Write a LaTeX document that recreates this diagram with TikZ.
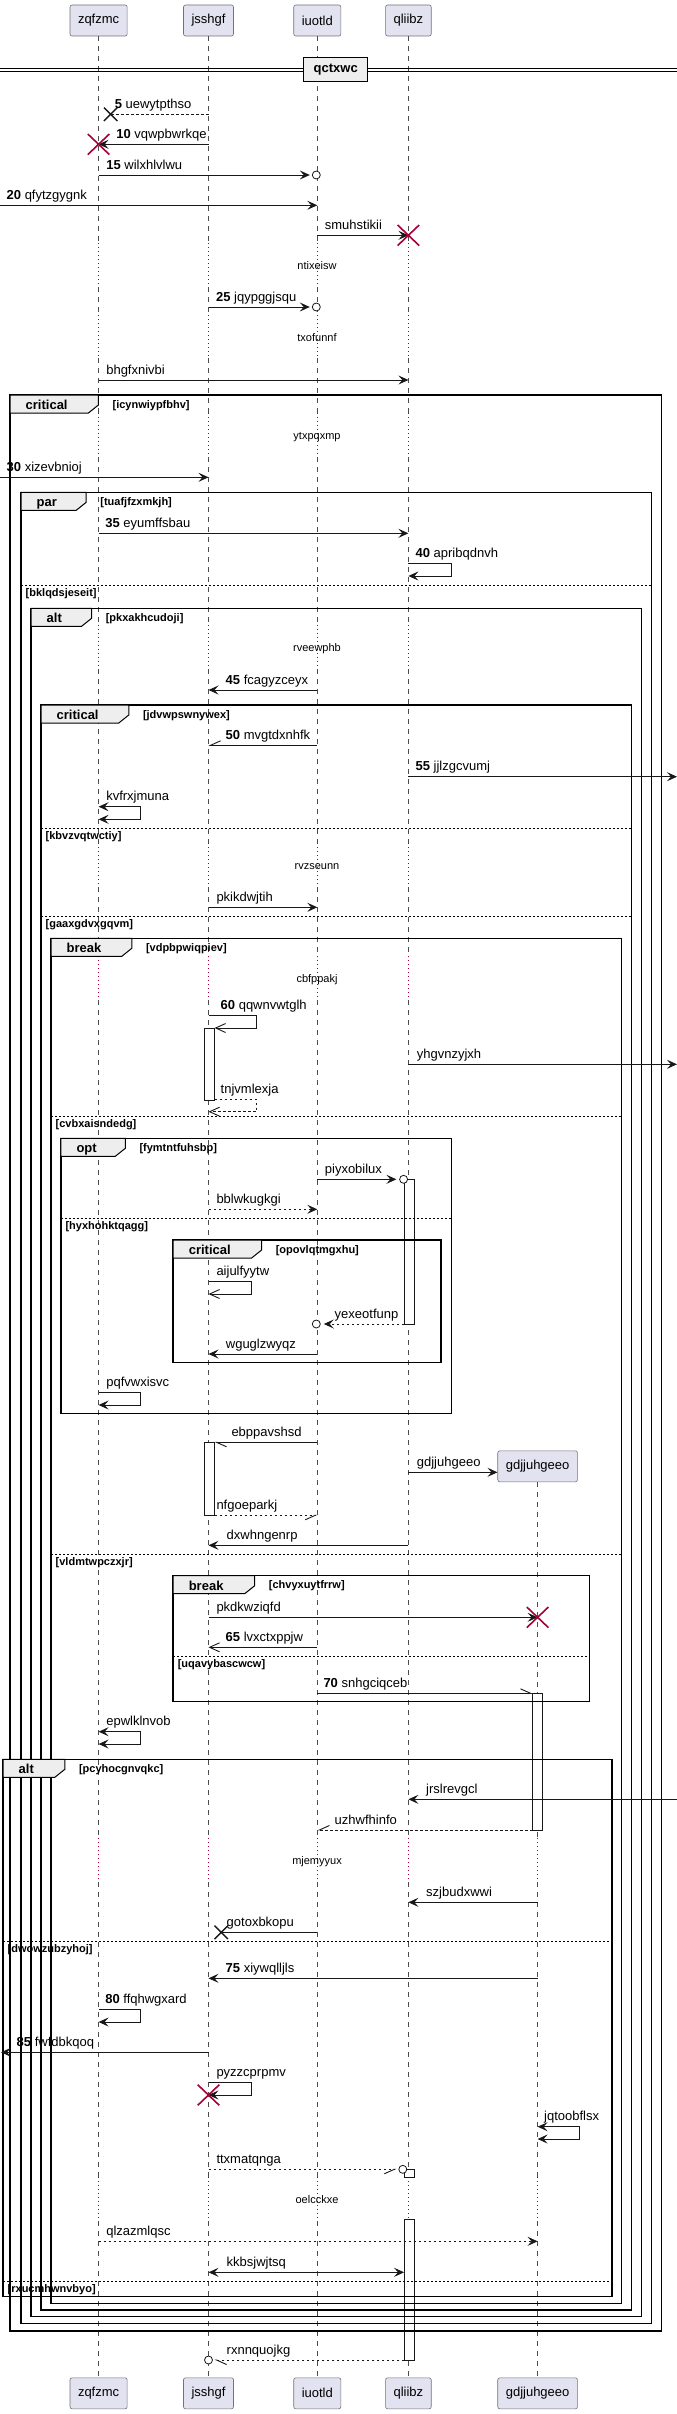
\documentclass[tikz,border=0pt]{standalone}
\usepackage{fontspec}
\setmainfont{Liberation Sans}
\usetikzlibrary{arrows.meta,shapes.misc}

\definecolor{partfill}{HTML}{E2E2F0}
\definecolor{tabfill}{HTML}{EEEEEE}
\definecolor{killred}{HTML}{A80036}
\definecolor{inkgray}{HTML}{181818}

\tikzset{
	headfull/.tip={Stealth[length=10pt,width=9pt,inset=4pt]},
	headopen/.tip={Straight Barb[length=10pt,width=9pt]},
	halfleft/.tip={Straight Barb[harpoon,length=10pt,width=9pt]},
	halfright/.tip={Straight Barb[harpoon,swap,length=10pt,width=9pt]},
}

\begin{document}
\begin{tikzpicture}[x=1pt,y=-1pt,
	part/.style={draw=black!55, fill=partfill, rounded corners=2pt, line width=0.6pt,
		minimum height=31pt, inner xsep=8pt, font=\fontsize{13}{15}\selectfont},
	lifeline/.style={draw=black!70, line width=0.5pt, dash pattern=on 5pt off 5pt},
	delayline/.style={draw=killred, line width=0.7pt, dash pattern=on 1pt off 3pt},
	msg/.style={draw=inkgray, line width=0.9pt, -{headfull}},
	ret/.style={msg, dash pattern=on 2.5pt off 2.5pt},
	lbl/.style={anchor=base west, inner sep=0pt, yshift=6pt, font=\fontsize{13}{15}\selectfont},
	actbar/.style={draw=inkgray, fill=white, line width=0.8pt},
	fragframe/.style={draw=black, line width=1.5pt},
	fragtab/.style={draw=black, fill=tabfill, line width=1pt},
	tabtext/.style={anchor=base west, inner sep=0pt, font=\bfseries\fontsize{13}{15}\selectfont},
	cond/.style={anchor=base west, inner sep=0pt, font=\bfseries\fontsize{11}{13}\selectfont},
	sepline/.style={draw=black, line width=0.8pt, dash pattern=on 2pt off 2pt},
	delaytext/.style={anchor=base, inner sep=0pt, font=\fontsize{11}{13}\selectfont},
	endo/.style={circle, draw=inkgray, fill=white, line width=0.8pt, inner sep=0pt, minimum size=8pt},
	killx/.style={cross out, draw=killred, line width=1.6pt, inner sep=0pt, minimum width=20pt, minimum height=19pt},
	lostx/.style={cross out, draw=inkgray, line width=1.4pt, inner sep=0pt, minimum size=12pt},
	divbox/.style={draw=black, fill=tabfill, line width=1.5pt, minimum width=64pt, minimum height=24.4pt,
		inner sep=0pt, font=\bfseries\fontsize{13}{15}\selectfont},
]

	\useasboundingbox (0,0) rectangle (677,2414);

% participants %{{{2

	\node[part] (zq) at (98.6,20.5) {zqfzmc};
	\node[part] (js) at (208.5,20.5) {jsshgf};
	\node[part] (iu) at (317.3,20.5) {iuotld};
	\node[part] (ql) at (408.4,20.5) {qliibz};
	\node[part] (gd) at (537.6,1466.3) {gdjjuhgeeo};

	\node[part] (zq2) at (98.6,2393.3) {zqfzmc};
	\node[part] (js2) at (208.5,2393.3) {jsshgf};
	\node[part] (iu2) at (317.3,2393.3) {iuotld};
	\node[part] (ql2) at (408.4,2393.3) {qliibz};
	\node[part] (gd2) at (537.6,2393.3) {gdjjuhgeeo};

% coordinates %{{{2

	\coordinate (west) at (0,0);
	\coordinate (east) at (677,0);

	\coordinate (y05) at (0,114.3);
	\coordinate (y10) at (0,144.3);
	\coordinate (y15) at (0,175);
	\coordinate (y20) at (0,205.3);
	\coordinate (ysm) at (0,235.3);
	\coordinate (y25) at (0,307);
	\coordinate (ybh) at (0,380);
	\coordinate (y30) at (0,477.3);
	\coordinate (y35) at (0,533.3);
	\coordinate (y40) at (0,563.3);
	\coordinate (y45) at (0,690);
	\coordinate (y50) at (0,745.3);
	\coordinate (y55) at (0,776.7);
	\coordinate (ykv) at (0,806.7);
	\coordinate (ypk) at (0,907.3);
	\coordinate (y60) at (0,1015.3);
	\coordinate (yyh) at (0,1064.3);
	\coordinate (ytn) at (0,1099.3);
	\coordinate (ypi) at (0,1179.3);
	\coordinate (ybb) at (0,1209.3);
	\coordinate (yai) at (0,1281.7);
	\coordinate (yye) at (0,1324);
	\coordinate (ywg) at (0,1354);
	\coordinate (ypq) at (0,1392.3);
	\coordinate (yeb) at (0,1442.3);
	\coordinate (ygd) at (0,1472.3);
	\coordinate (ynf) at (0,1515.3);
	\coordinate (ydx) at (0,1545.3);
	\coordinate (ypd) at (0,1617.3);
	\coordinate (y65) at (0,1647.3);
	\coordinate (y70) at (0,1693.3);
	\coordinate (yep) at (0,1731.7);
	\coordinate (yjr) at (0,1799.3);
	\coordinate (yuz) at (0,1830);
	\coordinate (ysz) at (0,1902.3);
	\coordinate (ygo) at (0,1932.3);
	\coordinate (y75) at (0,1978.3);
	\coordinate (y80) at (0,2009.3);
	\coordinate (y85) at (0,2052.3);
	\coordinate (ypy) at (0,2082.3);
	\coordinate (yjq) at (0,2126.7);
	\coordinate (ytt) at (0,2169.3);
	\coordinate (yqz) at (0,2241.3);
	\coordinate (ykk) at (0,2272.3);
	\coordinate (yrx) at (0,2360);

% lifelines and delays %{{{2

	\foreach \x in {98.6,208.5,317.3,408.4} {
		\foreach \a/\b in {36/243,287/315,358/413,457/625,669/843,887/957,1000/1838,1882/2177,2221/2377.7}
			{ \draw[lifeline] (\x,\a) -- (\x,\b); }
		\foreach \d in {265,337,435,647.3,865.3,978.3,1860,2199.3}
			{ \draw[delayline] (\x,\d-22) -- (\x,\d+22); }
	}
	\foreach \a/\b in {1482.3/1838,1882/2177,2221/2377.7}
		{ \draw[lifeline] (537.6,\a) -- (537.6,\b); }
	\foreach \d in {1860,2199.3}
		{ \draw[delayline] (537.6,\d-22) -- (537.6,\d+22); }

	\foreach \d/\t in {265/ntixeisw,337/txofunnf,435/ytxpqxmp,647.3/rveewphb,
		865.3/rvzseunn,978.3/cbfppakj,1860/mjemyyux,2199.3/oelcckxe}
		{ \node[delaytext] (dl-\t) at (317,\d+4) {\t}; }

% divider %{{{2

	\draw[line width=0.9pt] (0,68.3) -- (677,68.3);
	\draw[line width=0.9pt] (0,71.3) -- (677,71.3);
	\node[divbox] (qctxwc) at (335.7,69.5) {qctxwc};

% activations %{{{2

	\foreach \xa/\xb/\ya/\yb in {204/214.5/1028/1100, 204/214.5/1442.3/1515.3,
		404.3/414.3/1179.3/1324.3, 404.3/414.3/2169.3/2177.7, 404.3/414.3/2219.3/2360,
		532.6/542.6/1693.3/1830}
		{ \draw[actbar] (\xa,\ya) rectangle (\xb,\yb); }

% fragments %{{{2

	\foreach \fl/\ft/\fr/\fb/\tr/\kw/\cd in {
		10/395/661.3/2331/98.4/critical/icynwiypfbhv,
		21/492.3/651.3/2323.3/86.2/par/tuafjfzxmkjh,
		31/608.3/641.3/2316.7/91.6/alt/pkxakhcudoji,
		41/705/631.3/2310/128.8/critical/jdvwpswnywex,
		51/938.3/621.3/2303.3/131.8/break/vdpbpwiqpiev,
		60.8/1138.3/451.7/1413.3/125.3/opt/fymtntfuhsbp,
		173.1/1240/441.2/1362.3/261.6/critical/opovlqtmgxhu,
		173.1/1575.7/589.4/1701.7/254.7/break/chvyxuytfrrw,
		3/1759.3/611.8/2296.7/64.8/alt/pcyhocgnvqkc}
	{
		\draw[fragframe] (\fl,\ft) rectangle (\fr,\fb);
		\draw[fragtab] (\fl,\ft) -- (\tr,\ft) -- (\tr,\ft+10) -- (\tr-10,\ft+18) -- (\fl,\ft+18) -- cycle;
		\node[tabtext] (kw-\cd) at (\fl+15.5,\ft+14.5) {\kw};
		\node[cond] (cd-\cd) at (\tr+14,\ft+13) {[\cd]};
	}

	\foreach \sl/\sr/\sy/\cd in {21/651.3/585/bklqdsjeseit, 41/631.3/828.3/kbvzvqtwctiy,
		41/631.3/916/gaaxgdvxgqvm, 51/621.3/1116/cvbxaisndedg, 60.8/451.7/1218.3/hyxhohktqagg,
		51/621.3/1554.3/vldmtwpczxjr, 173.1/589.4/1656/uqavybascwcw,
		3/611.8/1941/dwowzubzyhoj, 3/611.8/2281/rxucmhwnvbyo}
	{
		\draw[sepline] (\sl,\sy) -- (\sr,\sy);
		\node[cond] (cd-\cd) at (\sl+4.5,\sy+11) {[\cd]};
	}

% messages %{{{2

	\draw[ret,-] (js |- y05) -- ([xshift=12pt]zq |- y05);
	\node[lostx] (x05) at ([xshift=12pt]zq |- y05) {};
	\node[lbl] (t05) at ([xshift=16pt]zq |- y05) {\textbf{5} uewytpthso};

	\draw[msg] (js |- y10) -- (zq |- y10);
	\node[killx] (x10) at (zq |- y10) {};
	\node[lbl] (t10) at ([xshift=17.5pt]zq |- y10) {\textbf{10} vqwpbwrkqe};

	\draw[msg] (zq |- y15) -- ([xshift=-7.5pt]iu |- y15);
	\node[endo] (o15) at ([xshift=-1pt]iu |- y15) {};
	\node[lbl] (t15) at ([xshift=7.5pt]zq |- y15) {\textbf{15} wilxhlvlwu};

	\draw[msg] (west |- y20) -- (iu |- y20);
	\node[lbl] (t20) at ([xshift=6.5pt]west |- y20) {\textbf{20} qfytzgygnk};

	\draw[msg] (iu |- ysm) -- (ql |- ysm);
	\node[killx] (xsm) at (ql |- ysm) {};
	\node[lbl] (tsm) at ([xshift=7.4pt]iu |- ysm) {smuhstikii};

	\draw[msg] (js |- y25) -- ([xshift=-7.5pt]iu |- y25);
	\node[endo] (o25) at ([xshift=-1pt]iu |- y25) {};
	\node[lbl] (t25) at ([xshift=7.4pt]js |- y25) {\textbf{25} jqypggjsqu};

	\draw[msg] (zq |- ybh) -- (ql |- ybh);
	\node[lbl] (tbh) at ([xshift=7.5pt]zq |- ybh) {bhgfxnivbi};

	\draw[msg] (west |- y30) -- (js |- y30);
	\node[lbl] (t30) at ([xshift=6.5pt]west |- y30) {\textbf{30} xizevbnioj};

	\draw[msg] (zq |- y35) -- (ql |- y35);
	\node[lbl] (t35) at ([xshift=6.5pt]zq |- y35) {\textbf{35} eyumffsbau};

	\draw[msg] (ql |- y40) -- ++(43,0) |- ([yshift=-12.7pt]ql |- y40);
	\node[lbl] (t40) at ([xshift=7pt]ql |- y40) {\textbf{40} apribqdnvh};

	\draw[msg] (iu |- y45) -- (js |- y45);
	\node[lbl] (t45) at ([xshift=17pt]js |- y45) {\textbf{45} fcagyzceyx};

	\draw[msg,-{halfright}] (iu |- y50) -- (js |- y50);
	\node[lbl] (t50) at ([xshift=17pt]js |- y50) {\textbf{50} mvgtdxnhfk};

	\draw[msg] (ql |- y55) -- (east |- y55);
	\node[lbl] (t55) at ([xshift=7pt]ql |- y55) {\textbf{55} jjlzgcvumj};

	\draw[msg,{headfull}-{headfull}] (zq |- ykv) -- ++(42.3,0) |- ([yshift=-12.6pt]zq |- ykv);
	\node[lbl] (tkv) at ([xshift=7.5pt]zq |- ykv) {kvfrxjmuna};

	\draw[msg] (js |- ypk) -- (iu |- ypk);
	\node[lbl] (tpk) at ([xshift=7.8pt]js |- ypk) {pkikdwjtih};

	\draw[msg,-{headopen}] (js |- y60) -- ++(47.8,0) |- ([xshift=6pt,yshift=-12.7pt]js |- y60);
	\node[lbl] (t60) at ([xshift=12pt]js |- y60) {\textbf{60} qqwnvwtglh};

	\draw[msg] (ql |- yyh) -- (east |- yyh);
	\node[lbl] (tyh) at ([xshift=8.3pt]ql |- yyh) {yhgvnzyjxh};

	\draw[ret,-{headopen}] ([xshift=6pt]js |- ytn) -- ++(41.8,0) |- ([yshift=-12.4pt]js |- ytn);
	\node[lbl] (ttn) at ([xshift=12pt]js |- ytn) {tnjvmlexja};

	\draw[msg] (iu |- ypi) -- ([xshift=-12pt]ql |- ypi);
	\node[endo] (opi) at ([xshift=-4.8pt]ql |- ypi) {};
	\node[lbl] (tpi) at ([xshift=7.4pt]iu |- ypi) {piyxobilux};

	\draw[ret] (js |- ybb) -- (iu |- ybb);
	\node[lbl] (tbb) at ([xshift=7.8pt]js |- ybb) {bblwkugkgi};

	\draw[msg,-{headopen}] (js |- yai) -- ++(42.7,0) |- ([yshift=-12.3pt]js |- yai);
	\node[lbl] (tai) at ([xshift=7.8pt]js |- yai) {aijulfyytw};

	\draw[ret] ([xshift=-4.1pt]ql |- yye) -- ([xshift=6.5pt]iu |- yye);
	\node[endo] (oye) at ([xshift=-1pt]iu |- yye) {};
	\node[lbl] (tye) at ([xshift=17.2pt]iu |- yye) {yexeotfunp};

	\draw[msg] (iu |- ywg) -- (js |- ywg);
	\node[lbl] (twg) at ([xshift=17.2pt]js |- ywg) {wguglzwyqz};

	\draw[msg] (zq |- ypq) -- ++(42.3,0) |- ([yshift=-12.7pt]zq |- ypq);
	\node[lbl] (tpq) at ([xshift=7.5pt]zq |- ypq) {pqfvwxisvc};

	\draw[msg,-{halfleft}] (iu |- yeb) -- ([xshift=6pt]js |- yeb);
	\node[lbl] (teb) at ([xshift=22.8pt]js |- yeb) {ebppavshsd};

	\draw[msg] (ql |- ygd) -- (gd.west |- ygd);
	\node[lbl] (tgd) at ([xshift=8.3pt]ql |- ygd) {gdjjuhgeeo};

	\draw[ret,-{halfright}] ([xshift=6pt]js |- ynf) -- (iu |- ynf);
	\node[lbl] (tnf) at ([xshift=7.8pt]js |- ynf) {nfgoeparkj};

	\draw[msg] (ql |- ydx) -- (js |- ydx);
	\node[lbl] (tdx) at ([xshift=18pt]js |- ydx) {dxwhngenrp};

	\draw[msg] (js |- ypd) -- (gd |- ypd);
	\node[killx] (xpd) at (gd |- ypd) {};
	\node[lbl] (tpd) at ([xshift=7.8pt]js |- ypd) {pkdkwziqfd};

	\draw[msg,-{headopen}] (iu |- y65) -- (js |- y65);
	\node[lbl] (t65) at ([xshift=17pt]js |- y65) {\textbf{65} lvxctxppjw};

	\draw[msg,-{halfleft}] (iu |- y70) -- ([xshift=-5pt]gd |- y70);
	\node[lbl] (t70) at ([xshift=6pt]iu |- y70) {\textbf{70} snhgciqceb};

	\draw[msg,{headfull}-{headfull}] (zq |- yep) -- ++(42.3,0) |- ([yshift=-12.3pt]zq |- yep);
	\node[lbl] (tep) at ([xshift=7.5pt]zq |- yep) {epwlklnvob};

	\draw[msg] (east |- yjr) -- (ql |- yjr);
	\node[lbl] (tjr) at ([xshift=17.6pt]ql |- yjr) {jrslrevgcl};

	\draw[ret,-{halfright}] ([xshift=-5pt]gd |- yuz) -- (iu |- yuz);
	\node[lbl] (tuz) at ([xshift=17.2pt]iu |- yuz) {uzhwfhinfo};

	\draw[msg] (gd |- ysz) -- (ql |- ysz);
	\node[lbl] (tsz) at ([xshift=17.6pt]ql |- ysz) {szjbudxwwi};

	\draw[msg,-] (iu |- ygo) -- ([xshift=12.7pt]js |- ygo);
	\node[lostx] (xgo) at ([xshift=12.7pt]js |- ygo) {};
	\node[lbl] (tgo) at ([xshift=18pt]js |- ygo) {gotoxbkopu};

	\draw[msg] (gd |- y75) -- (js |- y75);
	\node[lbl] (t75) at ([xshift=17pt]js |- y75) {\textbf{75} xiywqlljls};

	\draw[msg] (zq |- y80) -- ++(42.3,0) |- ([yshift=-12.7pt]zq |- y80);
	\node[lbl] (t80) at ([xshift=6.5pt]zq |- y80) {\textbf{80} ffqhwgxard};

	\draw[msg] (js |- y85) -- ([xshift=1pt]west |- y85);
	\node[lbl] (t85) at ([xshift=16.5pt]west |- y85) {\textbf{85} fwfdbkqoq};

	\draw[msg] (js |- ypy) -- ++(42.7,0) |- ([yshift=-12.7pt]js |- ypy);
	\node[killx] (xpy) at ([yshift=-12.7pt]js |- ypy) {};
	\node[lbl] (tpy) at ([xshift=7.8pt]js |- ypy) {pyzzcprpmv};

	\draw[msg,{headfull}-{headfull}] (gd |- yjq) -- ++(41.4,0) |- ([yshift=-12.3pt]gd |- yjq);
	\node[lbl] (tjq) at ([xshift=6.4pt]gd |- yjq) {jqtoobflsx};

	\draw[ret,-{halfright}] (js |- ytt) -- ([xshift=-12pt]ql |- ytt);
	\node[endo] (ott) at ([xshift=-5.6pt]ql |- ytt) {};
	\node[lbl] (ttt) at ([xshift=7.8pt]js |- ytt) {ttxmatqnga};

	\draw[ret] (zq |- yqz) -- (gd |- yqz);
	\node[lbl] (tqz) at ([xshift=7.5pt]zq |- yqz) {qlzazmlqsc};

	\draw[msg,{headfull}-{headfull}] (js |- ykk) -- ([xshift=-4.3pt]ql |- ykk);
	\node[lbl] (tkk) at ([xshift=18pt]js |- ykk) {kkbsjwjtsq};

	\draw[ret,-{halfleft}] ([xshift=-4.1pt]ql |- yrx) -- ([xshift=6pt]js |- yrx);
	\node[endo] (orx) at (js |- yrx) {};
	\node[lbl] (trx) at ([xshift=18pt]js |- yrx) {rxnnquojkg};

% closing %{{{2

\end{tikzpicture}
\end{document}
